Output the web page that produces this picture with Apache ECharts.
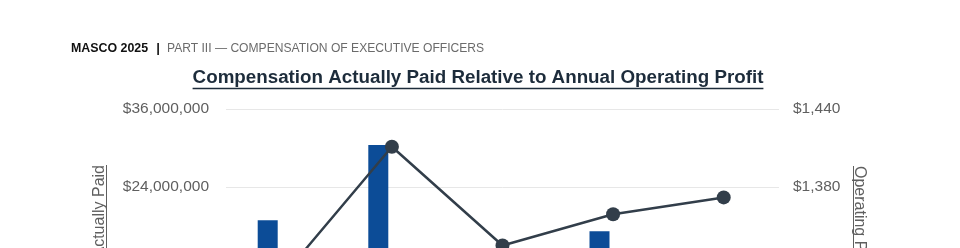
<!DOCTYPE html>
<html>
<head>
<meta charset="utf-8">
<script src="https://cdn.jsdelivr.net/npm/echarts@6/dist/echarts.min.js"></script>
<style>
  html, body { margin: 0; padding: 0; background: #ffffff; overflow: hidden; }
  #chart { width: 960px; height: 440px; }
</style>
</head>
<body>
<div id="chart"></div>
<script>
// Fiscal years on the category axis
const years = ['2020', '2021', '2022', '2023', '2024'];
// Compensation actually paid to the PEO (USD)
const peoCap = [18900000, 30450000, 11600000, 17200000, 13100000];
// Average compensation actually paid to the other named executives (USD)
const neoAvgCap = [3400000, 5100000, 2900000, 3600000, 3800000];
// Annual operating profit (USD millions)
const operatingProfit = [1310, 1411, 1335, 1359, 1372];
// Axis tick values
const capTicks = [0, 12000000, 24000000, 36000000];
const profitTicks = [1260, 1320, 1380, 1440];

const headerBold = 'MASCO 2025';
const headerRest = 'PART III \u2014 COMPENSATION OF EXECUTIVE OFFICERS';
const titleText = 'Compensation Actually Paid Relative to Annual Operating Profit';
const leftName = 'Compensation Actually Paid';
const rightName = 'Operating Profit (in millions)';

const FONT = '"Liberation Sans", Arial, Helvetica, sans-serif';
const TITLE_COLOR = '#1d2c3b';
const LABEL_COLOR = '#5f5f5f';

const measureCtx = document.createElement('canvas').getContext('2d');
function textWidth(str, size, weight) {
  measureCtx.font = (weight || 'normal') + ' ' + size + 'px ' + FONT;
  return measureCtx.measureText(str).width;
}
const money = v => '$' + Number(v).toLocaleString('en-US');

const titleSize = 18.8;
const titleW = textWidth(titleText, titleSize, 'bold');
const titleCx = 478;
const nameSize = 16;
const leftNameW = textWidth(leftName, nameSize);
const rightNameW = textWidth(rightName, nameSize);
const hdrSize = 12.4;
const hdrRestSize = 12.1;
const hdrBoldW = textWidth(headerBold, hdrSize, 'bold');

const chart = echarts.init(document.getElementById('chart'), null, { renderer: 'canvas' });

chart.setOption({
  animation: false,
  backgroundColor: '#ffffff',
  grid: { left: 226, right: 181, top: 109, bottom: 97, containLabel: false },
  xAxis: {
    type: 'category',
    data: years,
    axisLine: { show: true, lineStyle: { color: '#cfcfcf' } },
    axisTick: { show: false },
    axisLabel: { color: LABEL_COLOR, fontFamily: FONT, fontSize: 15 }
  },
  yAxis: [
    {
      type: 'value',
      min: capTicks[0],
      max: capTicks[capTicks.length - 1],
      interval: capTicks[1] - capTicks[0],
      axisLine: { show: false },
      axisTick: { show: false },
      splitLine: { lineStyle: { color: '#e7e7e7', width: 1 } },
      axisLabel: { color: LABEL_COLOR, fontFamily: FONT, fontSize: 15.5, margin: 17, formatter: money }
    },
    {
      type: 'value',
      min: profitTicks[0],
      max: profitTicks[profitTicks.length - 1],
      interval: profitTicks[1] - profitTicks[0],
      axisLine: { show: false },
      axisTick: { show: false },
      splitLine: { show: false },
      axisLabel: { color: LABEL_COLOR, fontFamily: FONT, fontSize: 15.5, margin: 14, formatter: money }
    }
  ],
  series: [
    {
      name: 'PEO CAP',
      type: 'bar',
      data: peoCap,
      barWidth: 20,
      barGap: '36%',
      itemStyle: { color: '#0c4c97' }
    },
    {
      name: 'Average Non-PEO NEO CAP',
      type: 'bar',
      data: neoAvgCap,
      barWidth: 20,
      itemStyle: { color: '#8fa7c4' }
    },
    {
      name: 'Operating Profit',
      type: 'line',
      yAxisIndex: 1,
      data: operatingProfit,
      z: 5,
      symbol: 'circle',
      symbolSize: 14,
      lineStyle: { color: '#323e4a', width: 2.5 },
      itemStyle: { color: '#323e4a' }
    }
  ],
  graphic: [
    {
      type: 'text', x: 71, y: 55,
      style: { text: headerBold, font: 'bold ' + hdrSize + 'px ' + FONT, fill: '#111111', verticalAlign: 'bottom' }
    },
    {
      type: 'text', x: 71 + hdrBoldW + 8, y: 55,
      style: { text: '|', font: 'bold ' + (hdrSize + 1) + 'px ' + FONT, fill: '#222222', verticalAlign: 'bottom' }
    },
    {
      type: 'text', x: 167, y: 55,
      style: { text: headerRest, font: hdrRestSize + 'px ' + FONT, fill: '#6b6b6b', verticalAlign: 'bottom' }
    },
    {
      type: 'text', x: titleCx, y: 78,
      style: { text: titleText, font: 'bold ' + titleSize + 'px ' + FONT, fill: TITLE_COLOR, align: 'center', verticalAlign: 'middle' }
    },
    {
      type: 'line',
      shape: { x1: titleCx - titleW / 2, y1: 88.5, x2: titleCx + titleW / 2, y2: 88.5 },
      style: { stroke: TITLE_COLOR, lineWidth: 1.5 }
    },
    {
      type: 'text', x: 108, y: 165, rotation: Math.PI / 2,
      style: { text: leftName, font: nameSize + 'px ' + FONT, fill: LABEL_COLOR, align: 'right', verticalAlign: 'bottom' }
    },
    {
      type: 'line',
      shape: { x1: 106.5, y1: 165, x2: 106.5, y2: 165 + leftNameW },
      style: { stroke: LABEL_COLOR, lineWidth: 1 }
    },
    {
      type: 'text', x: 851, y: 166, rotation: -Math.PI / 2,
      style: { text: rightName, font: nameSize + 'px ' + FONT, fill: LABEL_COLOR, align: 'left', verticalAlign: 'bottom' }
    },
    {
      type: 'line',
      shape: { x1: 853.5, y1: 166, x2: 853.5, y2: 166 + rightNameW },
      style: { stroke: LABEL_COLOR, lineWidth: 1 }
    }
  ]
});
</script>
</body>
</html>
